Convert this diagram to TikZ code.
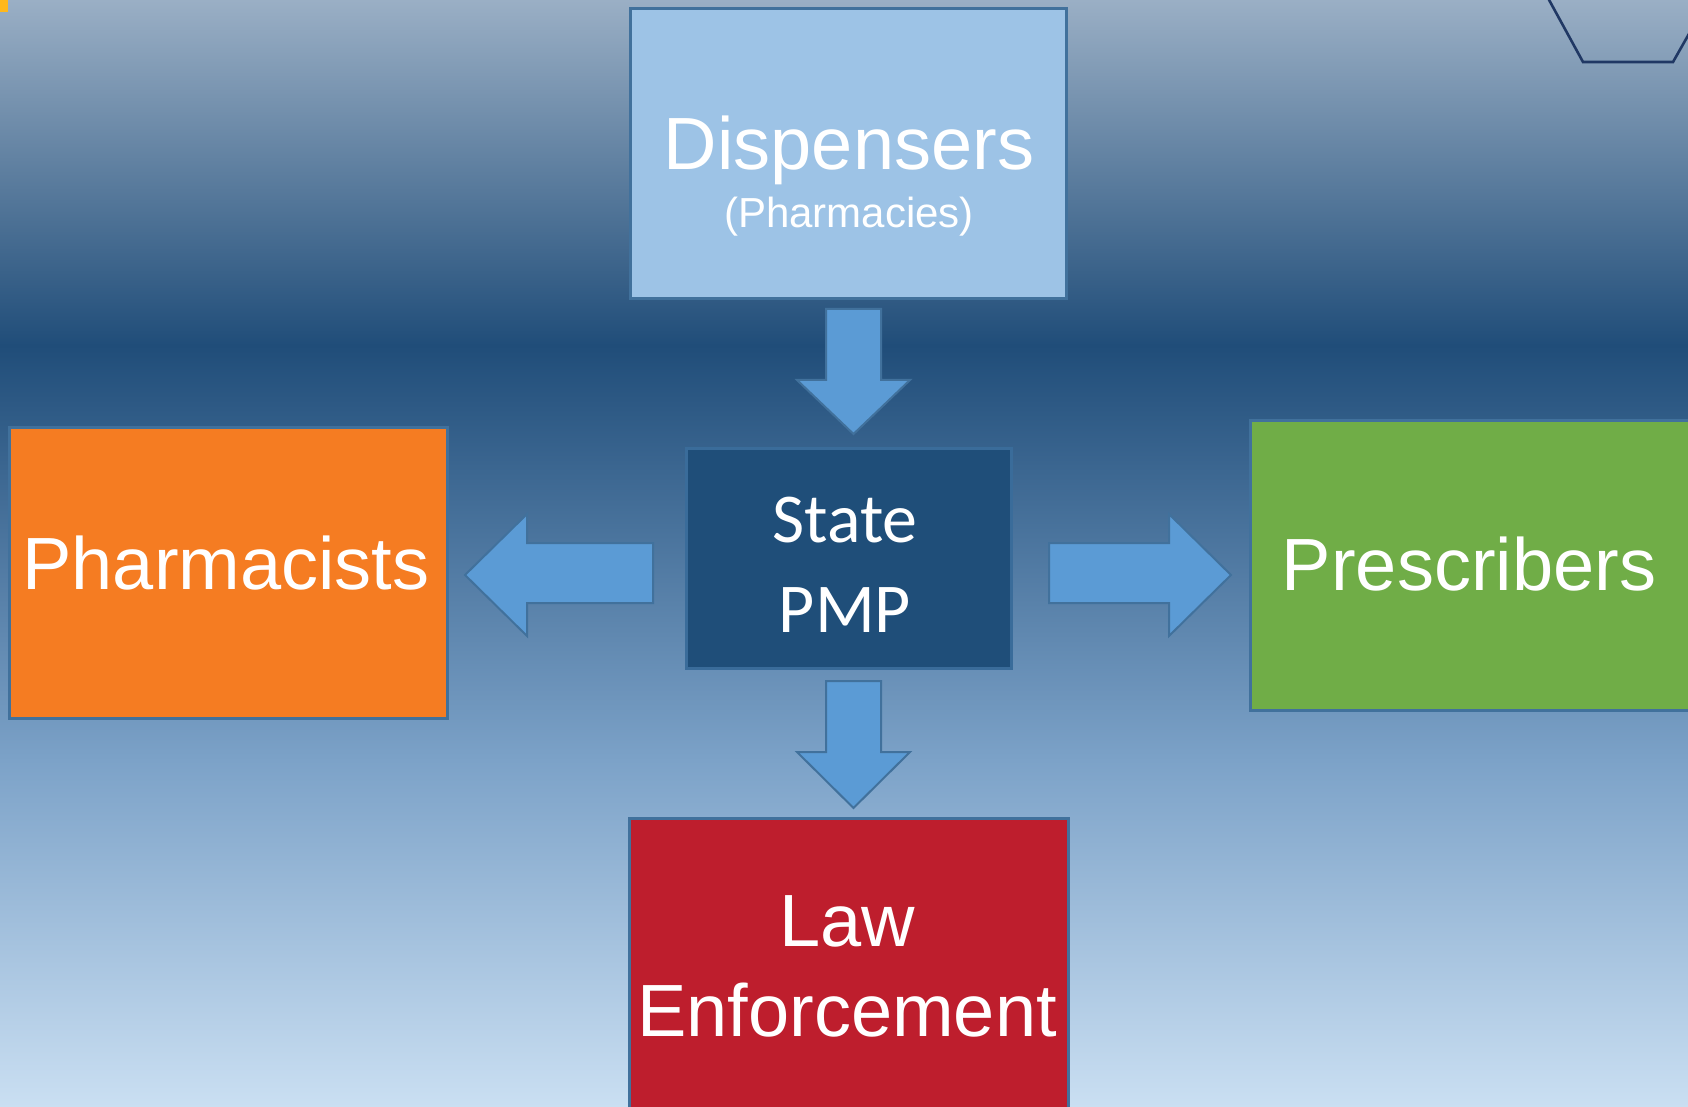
\documentclass[tikz,border=0pt]{standalone}
\usepackage{fontspec}
\setmainfont{Liberation Sans}
\newfontfamily\calibrifont{Carlito}
\definecolor{bgtop}{RGB}{154,175,197}
\definecolor{bgdark}{RGB}{32,77,121}
\definecolor{bgmid}{RGB}{124,162,200}
\definecolor{bgbot}{RGB}{202,223,242}
\definecolor{edgeblue}{RGB}{65,113,156}
\definecolor{dispfill}{RGB}{157,195,230}
\definecolor{pmpfill}{RGB}{31,78,121}
\definecolor{pmpedge}{RGB}{58,108,154}
\definecolor{arrowfill}{RGB}{91,155,213}
\definecolor{orangefill}{RGB}{245,124,34}
\definecolor{greenfill}{RGB}{112,173,71}
\definecolor{redfill}{RGB}{190,30,45}
\definecolor{hexline}{RGB}{32,56,100}
\definecolor{amber}{RGB}{255,184,28}
\tikzset{
  box/.style={draw=edgeblue, line width=1.5pt, inner sep=0pt, outer sep=0pt, rectangle},
  blockarrow/.style={draw=edgeblue, fill=arrowfill, line width=1pt, line join=miter},
  bigtext/.style={anchor=base, text=white, inner sep=0pt, font=\fontsize{37}{43}\selectfont},
  smalltext/.style={anchor=base, text=white, inner sep=0pt, font=\fontsize{21}{25}\selectfont},
  pmptext/.style={anchor=base, text=white, inner sep=0pt, font=\calibrifont\fontsize{35}{45}\selectfont},
}
\begin{document}
\begin{tikzpicture}[x=0.5pt,y=-0.5pt]
\useasboundingbox (0,0) rectangle (1688,1107);
\clip (0,0) rectangle (1688,1107);
% background
\shade[top color=bgtop, bottom color=bgdark] (0,0) rectangle (1688,346);
\shade[top color=bgdark, bottom color=bgmid] (0,345) rectangle (1688,761);
\shade[top color=bgmid, bottom color=bgbot] (0,760) rectangle (1688,1107);
% decorations
\fill[amber] (0,0) rectangle (8,12);
\draw[hexline, line width=1.3pt, line join=miter] (1548,-2) -- (1583,62) -- (1673,62) -- (1690,32);
% boxes
\node[box, fill=dispfill, minimum width=218pt, minimum height=145pt] (disp) at (848.5,154) {};
\node[box, draw=pmpedge, fill=pmpfill, minimum width=162.5pt, minimum height=110pt] (pmp) at (849,558.5) {};
\node[box, fill=orangefill, minimum width=219pt, minimum height=145.5pt] (pharm) at (228.5,573) {};
\node[box, fill=greenfill, minimum width=224.75pt, minimum height=145pt] (presc) at (1475.25,565.5) {};
\node[box, fill=redfill, minimum width=219.5pt, minimum height=150.75pt] (law) at (849,969.25) {};
% texts
\node[bigtext] (tdisp) at (849,170) {Dispensers};
\node[smalltext] (tpharmacies) at (849,228) {(Pharmacies)};
\node[pmptext] (tstate) at (845,542) {State};
\node[pmptext] (tpmp) at (845,632) {PMP};
\node[bigtext] (tpharm) at (226,589) {Pharmacists};
\node[bigtext] (tpresc) at (1469,590) {Prescribers};
\node[bigtext] (tlaw) at (847,946) {Law};
\node[bigtext] (tenf) at (847,1036) {Enforcement};
% block arrows
\draw[blockarrow] (826,309) -- (881,309) -- (881,380) -- (910,380) -- (853.5,434) -- (797,380) -- (826,380) -- cycle;
\draw[blockarrow] (826,681) -- (881,681) -- (881,752) -- (910,752) -- (853.5,808) -- (797,752) -- (826,752) -- cycle;
\draw[blockarrow] (653,543) -- (653,603) -- (527,603) -- (527,636) -- (465,575) -- (527,514) -- (527,543) -- cycle;
\draw[blockarrow] (1049,543) -- (1049,603) -- (1169,603) -- (1169,636) -- (1231,575) -- (1169,514) -- (1169,543) -- cycle;
\end{tikzpicture}
\end{document}
